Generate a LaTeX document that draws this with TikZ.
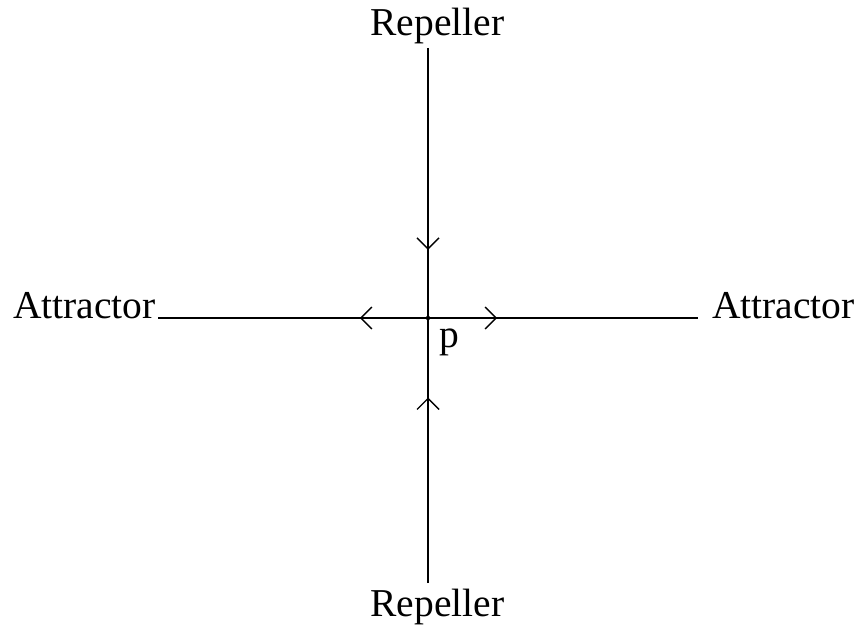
\documentclass[tikz,border=0pt]{standalone}
\usepackage{fontspec}
\setmainfont{Liberation Serif}
\usetikzlibrary{arrows.meta,decorations.markings}
\begin{document}
\begin{tikzpicture}[x=1pt,y=-1pt,
  axis/.style={line width=1.4pt},
  label/.style={inner sep=0pt,anchor=base,font=\fontsize{39.5}{47}\selectfont},
  flow/.style={postaction={decorate},decoration={markings,
    mark=at position #1 with {\arrow{Straight Barb[length=11pt,width=22pt]}}}}]
\useasboundingbox (0,0) rectangle (861,626);
% fixed point and end points of the four branches
\coordinate (p) at (428,318);
\coordinate (top) at (428,48);
\coordinate (bottom) at (428,583);
\coordinate (left) at (158,318);
\coordinate (right) at (698,318);
% branches with flow directions
\draw[axis,flow=0.748] (top) -- (p);
\draw[axis,flow=0.70] (bottom) -- (p);
\draw[axis,flow=0.252] (p) -- (left);
\draw[axis,flow=0.256] (p) -- (right);
\fill (p) circle (2.2pt);
% labels
\node[label] (rtop) at (437.5,36) {Repeller};
\node[label] (rbot) at (437.5,616) {Repeller};
\node[label,anchor=base east] (aleft) at (156,318) {Attractor};
\node[label,anchor=base west] (aright) at (712,318) {Attractor};
\node[label,anchor=base west] (plabel) at (439,347) {p};
\end{tikzpicture}
\end{document}
